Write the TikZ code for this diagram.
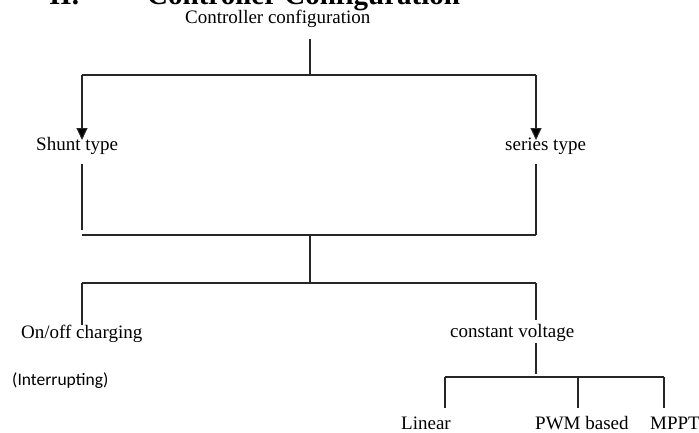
\documentclass[tikz,border=0pt]{standalone}
\usepackage{fontspec}
\setmainfont{Liberation Serif}
\newfontfamily\calfont{Carlito}
\usetikzlibrary{arrows.meta}
\begin{document}
\begin{tikzpicture}[x=1pt,y=-1pt,
  lbl/.style={anchor=base west, inner sep=0pt, font=\fontsize{19}{22}\selectfont},
  headlbl/.style={anchor=base west, inner sep=0pt, font=\fontsize{29}{34}\selectfont\bfseries},
  conn/.style={draw=black!85, line width=1.1pt},
  arr/.style={conn, -{Triangle[length=12pt,width=11pt,fill=black]}}]
\useasboundingbox (0,0) rectangle (699,432);
\clip (0,0) rectangle (699,432);
% heading (cut off at the top)
\node[headlbl] (sec) at (49,4) {II.};
\node[headlbl] (head) at (147,4) {Controller Configuration};
% labels
\node[lbl] (cc) at (185,23) {Controller configuration};
\node[lbl] (shunt) at (36,150) {Shunt type};
\node[lbl] (series) at (505,150) {series type};
\node[lbl] (onoff) at (21,338) {On/off charging};
\node[anchor=base west, inner sep=0pt, font=\calfont\fontsize{17.5}{21}\selectfont] (intr) at (12,385) {(Interrupting)};
\node[lbl] (cv) at (450,337) {constant voltage};
\node[lbl] (lin) at (401,429) {Linear};
\node[lbl] (pwm) at (535,429) {PWM based};
\node[lbl] (mppt) at (650,429) {MPPT};
% junction coordinates
\coordinate (t0) at (310,39);
\coordinate (j1) at (310,75);
\coordinate (j1l) at (82,75);
\coordinate (j1r) at (536,75);
\coordinate (a1) at (82,140);
\coordinate (a2) at (536,140);
\coordinate (s1) at (82,164);
\coordinate (s2) at (536,164);
\coordinate (j2l) at (82,235);
\coordinate (j2r) at (536,235);
\coordinate (j2) at (310,235);
\coordinate (j3) at (310,283);
\coordinate (j3l) at (82,283);
\coordinate (j3r) at (536,283);
\coordinate (o1) at (82,325);
\coordinate (c1) at (536,320);
\coordinate (c2) at (536,343);
\coordinate (j4) at (536,377);
\coordinate (j4l) at (445,377);
\coordinate (j4m) at (578,377);
\coordinate (j4r) at (664,377);
\coordinate (l1) at (445,408);
\coordinate (p1) at (578,408);
\coordinate (m1) at (664,408);
% connectors
\draw[conn] (t0) -- (j1);
\draw[conn] (j1l) -- (j1r);
\draw[arr] (j1l) -- (a1);
\draw[arr] (j1r) -- (a2);
\draw[conn] (s1) -- ([yshift=5pt]j2l);
\draw[conn] (s2) -- (j2r);
\draw[conn] (j2l) -- (j2r);
\draw[conn] (j2) -- (j3);
\draw[conn] (j3l) -- (j3r);
\draw[conn] (j3l) -- (o1);
\draw[conn] (j3r) -- (c1);
\draw[conn] (c2) -- ([yshift=3pt]j4);
\draw[conn] (j4l) -- (j4r);
\draw[conn] (j4l) -- (l1);
\draw[conn] (j4m) -- (p1);
\draw[conn] (j4r) -- (m1);
\end{tikzpicture}
\end{document}
